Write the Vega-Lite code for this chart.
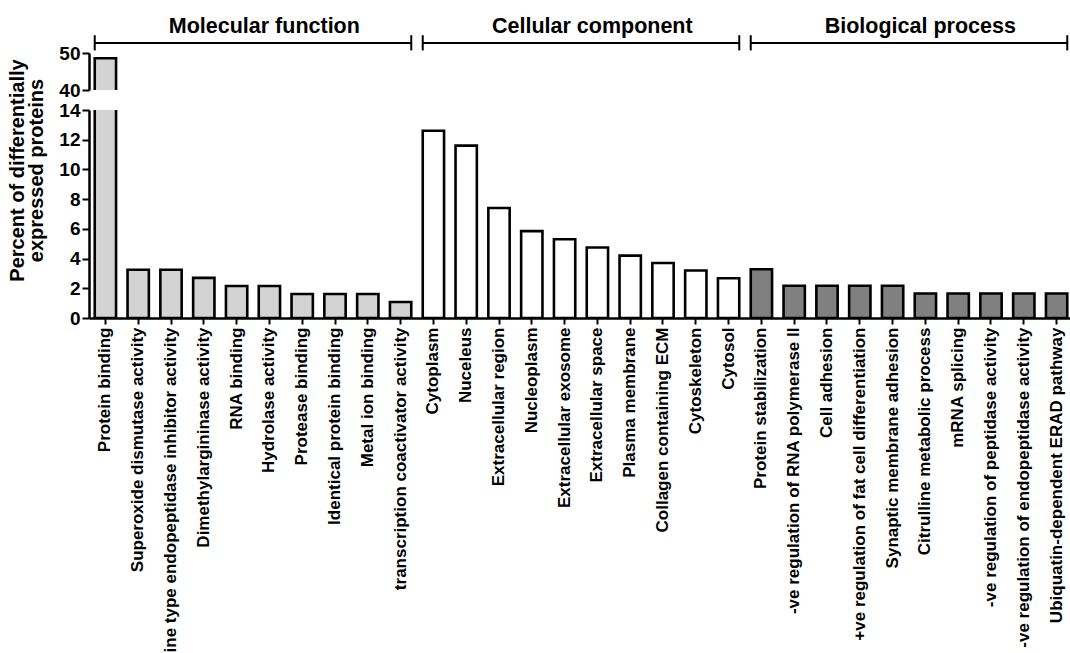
{
  "$schema": "https://vega.github.io/schema/vega-lite/v6.json",
  "background": "white",
  "padding": {"left": 7, "top": 16, "right": 0, "bottom": 0},
  "config": {
    "view": {"stroke": null},
    "font": "Liberation Sans",
    "axis": {"grid": false, "domainColor": "black", "tickColor": "black", "labelColor": "black", "titleColor": "black", "labelFontWeight": "bold", "titleFontWeight": "bold"}
  },
  "datasets": {
    "bars": [
      {"term": "Protein binding", "group": "Molecular function", "pct": 48.6},
      {"term": "Superoxide dismutase activity", "group": "Molecular function", "pct": 3.25},
      {"term": "cysteine type endopeptidase inhibitor activity", "group": "Molecular function", "pct": 3.25},
      {"term": "Dimethylargininase activity", "group": "Molecular function", "pct": 2.7},
      {"term": "RNA binding", "group": "Molecular function", "pct": 2.15},
      {"term": "Hydrolase activity", "group": "Molecular function", "pct": 2.15},
      {"term": "Protease binding", "group": "Molecular function", "pct": 1.62},
      {"term": "Identical protein binding", "group": "Molecular function", "pct": 1.62},
      {"term": "Metal ion binding", "group": "Molecular function", "pct": 1.62},
      {"term": "transcription coactivator activity", "group": "Molecular function", "pct": 1.08},
      {"term": "Cytoplasm", "group": "Cellular component", "pct": 12.6},
      {"term": "Nuceleus", "group": "Cellular component", "pct": 11.6},
      {"term": "Extracellular region", "group": "Cellular component", "pct": 7.4},
      {"term": "Nucleoplasm", "group": "Cellular component", "pct": 5.85},
      {"term": "Extracellular exosome", "group": "Cellular component", "pct": 5.3},
      {"term": "Extracellular space", "group": "Cellular component", "pct": 4.75},
      {"term": "Plasma membrane", "group": "Cellular component", "pct": 4.2},
      {"term": "Collagen containing ECM", "group": "Cellular component", "pct": 3.7},
      {"term": "Cytoskeleton", "group": "Cellular component", "pct": 3.2},
      {"term": "Cytosol", "group": "Cellular component", "pct": 2.68},
      {"term": "Protein stabilization", "group": "Biological process", "pct": 3.28},
      {"term": "-ve regulation of RNA polymerase II", "group": "Biological process", "pct": 2.17},
      {"term": "Cell adhesion", "group": "Biological process", "pct": 2.17},
      {"term": "+ve regulation of fat cell differentiation", "group": "Biological process", "pct": 2.17},
      {"term": "Synaptic membrane adhesion", "group": "Biological process", "pct": 2.17},
      {"term": "Citrulline metabolic process", "group": "Biological process", "pct": 1.65},
      {"term": "mRNA splicing", "group": "Biological process", "pct": 1.65},
      {"term": "-ve regulation of peptidase activity", "group": "Biological process", "pct": 1.65},
      {"term": "-ve regulation of endopeptidase activity", "group": "Biological process", "pct": 1.65},
      {"term": "Ubiquatin-dependent ERAD pathway", "group": "Biological process", "pct": 1.65}
    ],
    "brackets": [
      {"group": "Molecular function", "start": "Protein binding", "end": "transcription coactivator activity", "mid": "RNA binding"},
      {"group": "Cellular component", "start": "Cytoplasm", "end": "Cytosol", "mid": "Extracellular exosome"},
      {"group": "Biological process", "start": "Protein stabilization", "end": "Ubiquatin-dependent ERAD pathway", "mid": "Synaptic membrane adhesion"}
    ]
  },
  "bounds": "flush",
  "spacing": 20,
  "vconcat": [
    {
      "width": 984,
      "height": 37,
      "layer": [
        {
          "data": {"name": "bars"},
          "mark": {"type": "bar", "clip": true, "stroke": "black", "strokeWidth": 2.6},
          "encoding": {
            "x": {"field": "term", "type": "nominal", "axis": null,
              "scale": {"paddingInner": 0.35, "paddingOuter": 0.175, "domain": ["Protein binding","Superoxide dismutase activity","cysteine type endopeptidase inhibitor activity","Dimethylargininase activity","RNA binding","Hydrolase activity","Protease binding","Identical protein binding","Metal ion binding","transcription coactivator activity","Cytoplasm","Nuceleus","Extracellular region","Nucleoplasm","Extracellular exosome","Extracellular space","Plasma membrane","Collagen containing ECM","Cytoskeleton","Cytosol","Protein stabilization","-ve regulation of RNA polymerase II","Cell adhesion","+ve regulation of fat cell differentiation","Synaptic membrane adhesion","Citrulline metabolic process","mRNA splicing","-ve regulation of peptidase activity","-ve regulation of endopeptidase activity","Ubiquatin-dependent ERAD pathway"]}},
            "y": {"field": "pct", "type": "quantitative",
              "scale": {"domain": [40, 50], "nice": false, "zero": false},
              "axis": {"values": [40, 50], "title": null, "labelFontSize": 19, "domainWidth": 2.5, "tickWidth": 2, "tickSize": 7, "labelPadding": 2}},
            "y2": {"datum": 0},
            "color": {"field": "group", "type": "nominal", "legend": null,
              "scale": {"domain": ["Molecular function", "Cellular component", "Biological process"], "range": ["#d3d3d3", "#ffffff", "#808080"]}}
          }
        },
        {
          "data": {"name": "brackets"},
          "mark": {"type": "rule", "color": "black", "strokeWidth": 2},
          "encoding": {
            "x": {"field": "start", "type": "nominal", "bandPosition": 0},
            "x2": {"field": "end", "bandPosition": 1},
            "y": {"datum": 52.7}
          }
        },
        {
          "data": {"name": "brackets"},
          "mark": {"type": "rule", "color": "black", "strokeWidth": 2},
          "encoding": {
            "x": {"field": "start", "type": "nominal", "bandPosition": 0},
            "y": {"datum": 50.7},
            "y2": {"datum": 54.8}
          }
        },
        {
          "data": {"name": "brackets"},
          "mark": {"type": "rule", "color": "black", "strokeWidth": 2},
          "encoding": {
            "x": {"field": "end", "type": "nominal", "bandPosition": 1},
            "y": {"datum": 50.7},
            "y2": {"datum": 54.8}
          }
        },
        {
          "data": {"name": "brackets"},
          "mark": {"type": "text", "fontSize": 21.5, "fontWeight": "bold", "color": "black", "baseline": "middle", "align": "center"},
          "encoding": {
            "x": {"field": "mid", "type": "nominal", "bandPosition": 1.8},
            "y": {"datum": 57.0},
            "text": {"field": "group"}
          }
        }
      ]
    },
    {
      "width": 984,
      "height": 208,
      "data": {"name": "bars"},
      "mark": {"type": "bar", "clip": true, "stroke": "black", "strokeWidth": 2.6},
      "encoding": {
        "x": {"field": "term", "type": "nominal", "title": null,
          "scale": {"paddingInner": 0.35, "paddingOuter": 0.175, "domain": ["Protein binding","Superoxide dismutase activity","cysteine type endopeptidase inhibitor activity","Dimethylargininase activity","RNA binding","Hydrolase activity","Protease binding","Identical protein binding","Metal ion binding","transcription coactivator activity","Cytoplasm","Nuceleus","Extracellular region","Nucleoplasm","Extracellular exosome","Extracellular space","Plasma membrane","Collagen containing ECM","Cytoskeleton","Cytosol","Protein stabilization","-ve regulation of RNA polymerase II","Cell adhesion","+ve regulation of fat cell differentiation","Synaptic membrane adhesion","Citrulline metabolic process","mRNA splicing","-ve regulation of peptidase activity","-ve regulation of endopeptidase activity","Ubiquatin-dependent ERAD pathway"]},
          "axis": {"labelAngle": -90, "labelFontSize": 17, "labelLimit": 1000, "labelOverlap": false, "domainWidth": 2.5, "tickWidth": 2, "tickSize": 6, "labelPadding": 3}},
        "y": {"field": "pct", "type": "quantitative",
          "scale": {"domain": [0, 14], "nice": false},
          "axis": {"values": [0, 2, 4, 6, 8, 10, 12, 14], "labelFontSize": 19, "domainWidth": 2.5, "tickWidth": 2, "tickSize": 7, "labelPadding": 2,
            "title": ["Percent of differentially", "expressed proteins"], "titleFontSize": 20, "titleY": 60, "titleX": -62, "titleLineHeight": 19}},
        "color": {"field": "group", "type": "nominal", "legend": null,
          "scale": {"domain": ["Molecular function", "Cellular component", "Biological process"], "range": ["#d3d3d3", "#ffffff", "#808080"]}}
      }
    }
  ]
}
